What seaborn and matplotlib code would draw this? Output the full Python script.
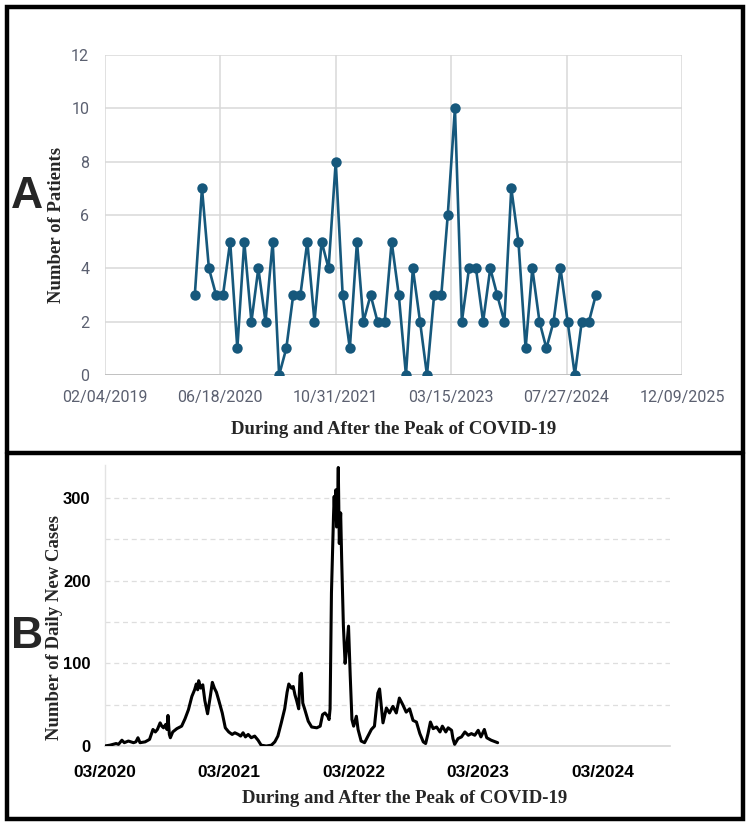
import numpy as np
import pandas as pd
import matplotlib
matplotlib.use("Agg")
import matplotlib.pyplot as plt
import matplotlib.dates as mdates
from matplotlib.patches import Rectangle
from matplotlib.lines import Line2D
import seaborn as sns

# ---- panel A: monthly patients (Mar 2020 .. Dec 2024)
a_start = "2020-03-01"
a_patients = [3, 7, 4, 3, 3, 5, 1, 5, 2, 4, 2, 5, 0, 1, 3, 3, 5, 2, 5, 4,
              8, 3, 1, 5, 2, 3, 2, 2, 5, 3, 0, 4, 2, 0, 3, 3, 6, 10, 2, 4,
              4, 2, 4, 3, 2, 7, 5, 1, 4, 2, 1, 2, 4, 2, 0, 2, 2, 3]
a_ticks = ["2019-02-04", "2020-06-18", "2021-10-31", "2023-03-15", "2024-07-27", "2025-12-09"]
a_yticks = [0, 2, 4, 6, 8, 10, 12]

# ---- panel B: daily new cases
b_dates = [
    "2020-03-01", "2020-03-17", "2020-04-04", "2020-04-11", "2020-04-21", "2020-04-28",
    "2020-05-10", "2020-05-25", "2020-06-01", "2020-06-07", "2020-06-13", "2020-06-28",
    "2020-07-11", "2020-07-21", "2020-07-28", "2020-08-03", "2020-08-11", "2020-08-16",
    "2020-08-21", "2020-08-27", "2020-08-31", "2020-09-03", "2020-09-07", "2020-09-10",
    "2020-09-17", "2020-09-29", "2020-10-13", "2020-10-23", "2020-11-02", "2020-11-12",
    "2020-11-20", "2020-11-25", "2020-11-29", "2020-12-02", "2020-12-08", "2020-12-14",
    "2020-12-20", "2020-12-28", "2021-01-05", "2021-01-11", "2021-01-17", "2021-01-23",
    "2021-01-30", "2021-02-09", "2021-02-18", "2021-02-28", "2021-03-10", "2021-03-18",
    "2021-03-28", "2021-04-04", "2021-04-11", "2021-04-18", "2021-04-26", "2021-05-05",
    "2021-05-15", "2021-05-25", "2021-06-03", "2021-06-18", "2021-07-03", "2021-07-13",
    "2021-07-22", "2021-08-01", "2021-08-11", "2021-08-18", "2021-08-23", "2021-08-31",
    "2021-09-05", "2021-09-10", "2021-09-15", "2021-09-21", "2021-09-25", "2021-09-29",
    "2021-10-03", "2021-10-09", "2021-10-19", "2021-10-29", "2021-11-13", "2021-11-23",
    "2021-11-30", "2021-12-07", "2021-12-15", "2021-12-19", "2021-12-22", "2021-12-26",
    "2022-01-01", "2022-01-03", "2022-01-05", "2022-01-08", "2022-01-10", "2022-01-13",
    "2022-01-15", "2022-01-18", "2022-01-22", "2022-01-25", "2022-01-30", "2022-02-04",
    "2022-02-09", "2022-02-14", "2022-02-19", "2022-02-24", "2022-03-01", "2022-03-09",
    "2022-03-14", "2022-03-23", "2022-04-02", "2022-04-12", "2022-04-22", "2022-05-01",
    "2022-05-11", "2022-05-16", "2022-05-26", "2022-06-05", "2022-06-14", "2022-06-24",
    "2022-07-04", "2022-07-13", "2022-07-23", "2022-08-02", "2022-08-12", "2022-08-22",
    "2022-09-01", "2022-09-11", "2022-09-21", "2022-09-28", "2022-10-05", "2022-10-12",
    "2022-10-20", "2022-10-30", "2022-11-09", "2022-11-16", "2022-11-26", "2022-12-03",
    "2022-12-13", "2022-12-17", "2022-12-22", "2023-01-01", "2023-01-11", "2023-01-21",
    "2023-01-31", "2023-02-09", "2023-02-19", "2023-03-01", "2023-03-09", "2023-03-19",
    "2023-03-26", "2023-04-08", "2023-04-27",
]
b_cases = [
    0, 1, 3, 2, 7, 4,
    6, 4, 5, 10, 4, 5,
    8, 20, 17, 20, 28, 24,
    22, 26, 20, 37, 14, 10,
    17, 21, 24, 33, 44, 60,
    68, 75, 68, 79, 70, 74,
    55, 39, 60, 77, 70, 65,
    55, 40, 22, 17, 14, 16,
    14, 12, 16, 11, 14, 10,
    12, 7, 1, 0, 1, 5,
    12, 28, 45, 65, 75, 70,
    72, 62, 55, 45, 85, 88,
    52, 44, 30, 23, 22, 24,
    38, 40, 36, 32, 45, 185,
    278, 302, 278, 310, 265, 295,
    337, 245, 282, 225, 145, 100,
    120, 145, 85, 32, 24, 36,
    20, 6, 4, 12, 20, 24,
    64, 69, 28, 46, 40, 48,
    40, 58, 50, 41, 45, 31,
    29, 15, 5, 3, 15, 29,
    21, 23, 17, 24, 17, 22,
    19, 9, 2, 9, 11, 17,
    13, 15, 13, 19, 11, 20,
    10, 7, 4,
]
b_yticks = [0, 100, 200, 300]
b_ygrid = [50, 150, 250]

xlabel = "During and After the Peak of COVID-19"

sns.set_theme(style="white")
plt.rcParams["font.family"] = ["Liberation Sans", "DejaVu Sans"]

W, H = 750, 826
fig = plt.figure(figsize=(W / 100, H / 100), dpi=100)
serif_bold = dict(family="Liberation Serif", weight="bold", size=13.5)

# ================= panel A =================
axA = fig.add_axes([104.5 / W, 1 - 375 / H, 577.5 / W, 320 / H])
a_df = pd.DataFrame({
    "date": pd.date_range(a_start, periods=len(a_patients), freq="MS"),
    "patients": a_patients,
})
sns.lineplot(data=a_df, x="date", y="patients", ax=axA, color="#16587c",
             linewidth=1.9, marker="o", markersize=7.5, markeredgewidth=0,
             zorder=3)
axA.set_xlim(pd.Timestamp(a_ticks[0]), pd.Timestamp(a_ticks[-1]))
axA.set_ylim(0, 12)
axA.set_xticks(pd.to_datetime(a_ticks))
axA.xaxis.set_major_formatter(mdates.DateFormatter("%m/%d/%Y"))
axA.set_yticks(a_yticks)
axA.grid(True, color="#d9d9d9", linewidth=1.1)
for s in axA.spines.values():
    s.set_visible(False)
axA.axhline(0, color="#bfbfbf", linewidth=1.3, zorder=2)
axA.tick_params(axis="both", length=0, labelsize=11.5, labelcolor="#5b6070")
axA.tick_params(axis="x", pad=11)
axA.tick_params(axis="y", pad=11)
for t in axA.get_xticklabels() + axA.get_yticklabels():
    t.set_family("Roboto")
axA.set_xlabel(xlabel, fontdict=serif_bold)
axA.xaxis.set_label_coords(0.5, -0.145)
axA.set_ylabel("Number of Patients", fontdict=serif_bold)
axA.yaxis.set_label_coords(-0.068, 0.47)

# ================= panel B =================
axB = fig.add_axes([104.5 / W, 1 - 746 / H, 565.5 / W, 281 / H])
b_df = pd.DataFrame({"date": pd.to_datetime(b_dates), "cases": b_cases})
sns.lineplot(data=b_df, x="date", y="cases", ax=axB, color="black",
             linewidth=2.2, zorder=3)
axB.set_xlim(pd.Timestamp("2020-03-01"), pd.Timestamp("2024-09-13"))
axB.set_ylim(0, 340)
axB.xaxis.set_major_locator(mdates.MonthLocator(bymonth=3))
axB.xaxis.set_minor_locator(mdates.MonthLocator(bymonth=9))
axB.xaxis.set_major_formatter(mdates.DateFormatter("%m/%Y"))
axB.set_yticks(b_yticks)
axB.set_yticks(b_ygrid, minor=True)
axB.grid(False)
axB.grid(True, axis="y", which="both", color="#dedede", linewidth=0.9,
         linestyle=(0, (4, 3)))
for side in ["top", "right"]:
    axB.spines[side].set_visible(False)
axB.spines["left"].set_color("#e3e3e3")
axB.spines["bottom"].set_color("#d6d6d6")
axB.spines["left"].set_linewidth(1.0)
axB.spines["bottom"].set_linewidth(1.2)
axB.tick_params(axis="x", which="both", length=5, color="#d6d6d6", width=1,
                direction="out")
axB.tick_params(axis="x", which="major", pad=9, labelsize=12.5)
axB.tick_params(axis="y", which="both", length=0, pad=10, labelsize=12)
for t in axB.get_xticklabels() + axB.get_yticklabels():
    t.set_fontweight("bold")
    t.set_color("black")
axB.set_xlabel(xlabel, fontdict=serif_bold)
axB.xaxis.set_label_coords(0.53, -0.155)
axB.set_ylabel("Number of Daily New Cases", fontdict=serif_bold)
axB.yaxis.set_label_coords(-0.074, 0.42)

# ---- panel letters
fig.text(27 / W, 1 - 197 / H, "A", ha="center", va="center",
         fontsize=32, fontweight="bold", family="Liberation Sans")
fig.text(27 / W, 1 - 636 / H, "B", ha="center", va="center",
         fontsize=32, fontweight="bold", family="Liberation Sans")

# ---- black frames around both panels
fig.add_artist(Rectangle((7 / W, 1 - 819 / H), 736 / W, 812 / H,
                         transform=fig.transFigure, fill=False,
                         edgecolor="black", linewidth=3.2))
fig.add_artist(Line2D([7 / W, 743 / W], [1 - 453 / H, 1 - 453 / H],
                      transform=fig.transFigure, color="black", linewidth=3.2))

fig.savefig("out.png", dpi=100)
